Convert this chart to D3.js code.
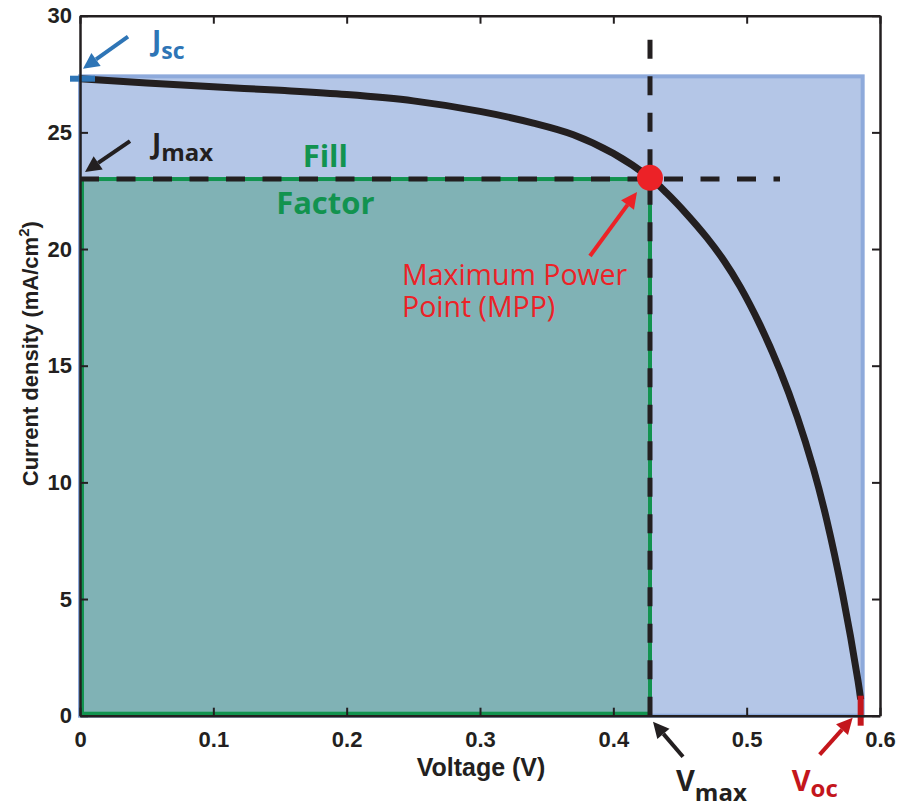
<!DOCTYPE html>
<html>
<head>
<meta charset="utf-8">
<script src="https://cdn.jsdelivr.net/npm/d3@7"></script>
<style>
  body { margin: 0; background: #fff; }
</style>
</head>
<body>
<div class="vis-container"></div>
<script>
// J-V curve
const voltage = [0, 0.05, 0.1, 0.15, 0.2, 0.25, 0.3, 0.34, 0.37, 0.4, 0.4275, 0.44, 0.455,
  0.47, 0.483, 0.495, 0.51, 0.525, 0.538, 0.55, 0.56, 0.572, 0.5835, 0.5855];
const current = [27.3, 27.12, 26.95, 26.8, 26.62, 26.35, 25.9, 25.4, 24.9, 24.1, 23.05, 22.4, 21.5,
  20.5, 19.5, 18.4, 16.75, 14.8, 12.8, 10.6, 8.4, 5.2, 1.5, 0.7];
const xTicks = [0, 0.1, 0.2, 0.3, 0.4, 0.5, 0.6];
const yTicks = [0, 5, 10, 15, 20, 25, 30];
const jsc = 27.4;
const voc = 0.587;
const vmax = 0.4275;
const jmax = 23.0;

const margin = { top: 15.7, right: 20, bottom: 93.3, left: 80 };
const width = 900 - margin.left - margin.right;
const height = 809 - margin.top - margin.bottom;

const svg = d3
  .select('.vis-container')
  .append('svg')
  .attr('width', width + margin.left + margin.right)
  .attr('height', height + margin.top + margin.bottom);

const group = svg
  .append('g')
  .attr('transform', 'translate(' + margin.left + ',' + margin.top + ')');

const xScale = d3.scaleLinear().domain([0, 0.6]).range([0, width]);
const yScale = d3.scaleLinear().domain([0, 30]).range([height, 0]);

const ink = '#231f20';
const annFont = '"Open Sans", "Noto Sans", sans-serif';

// Jsc x Voc rectangle
group
  .append('rect')
  .attr('x', xScale(0))
  .attr('y', yScale(jsc))
  .attr('width', xScale(voc) - xScale(0))
  .attr('height', yScale(0) - yScale(jsc))
  .attr('fill', '#b4c6e7')
  .attr('stroke', '#8eaadb')
  .attr('stroke-width', 4);

// Jmax x Vmax rectangle (fill factor)
group
  .append('rect')
  .attr('x', xScale(0) + 2)
  .attr('y', yScale(jmax))
  .attr('width', xScale(vmax) - xScale(0) - 2)
  .attr('height', yScale(0) - yScale(jmax) - 2)
  .attr('fill', '#80b2b5')
  .attr('stroke', '#12934f')
  .attr('stroke-width', 4);

// curve
const points = voltage.map((v, i) => ({ v: v, j: current[i] }));
const line = d3
  .line()
  .curve(d3.curveCatmullRom.alpha(0.5))
  .x((d) => xScale(d.v))
  .y((d) => yScale(d.j));

group
  .append('path')
  .datum(points)
  .attr('fill', 'none')
  .attr('stroke', ink)
  .attr('stroke-width', 7)
  .attr('stroke-linejoin', 'round')
  .attr('d', line);

// dashed guides through MPP
group
  .append('line')
  .attr('x1', xScale(0))
  .attr('x2', xScale(0.525))
  .attr('y1', yScale(jmax))
  .attr('y2', yScale(jmax))
  .attr('stroke', ink)
  .attr('stroke-width', 5)
  .attr('stroke-dasharray', '19,17.5');

group
  .append('line')
  .attr('x1', xScale(vmax))
  .attr('x2', xScale(vmax))
  .attr('y1', yScale(0))
  .attr('y2', yScale(29.2))
  .attr('stroke', ink)
  .attr('stroke-width', 5)
  .attr('stroke-dasharray', '19,17.5');

// MPP dot
group
  .append('circle')
  .attr('cx', xScale(vmax))
  .attr('cy', yScale(jmax + 0.05))
  .attr('r', 13)
  .attr('fill', '#ec2227');

// Jsc and Voc markers
group
  .append('line')
  .attr('x1', xScale(0) - 10)
  .attr('x2', xScale(0) + 15)
  .attr('y1', yScale(current[0]))
  .attr('y2', yScale(current[0]))
  .attr('stroke', '#2e75b6')
  .attr('stroke-width', 6);

group
  .append('line')
  .attr('x1', xScale(voc) - 2)
  .attr('x2', xScale(voc) - 2)
  .attr('y1', yScale(0) - 20)
  .attr('y2', yScale(0) + 10)
  .attr('stroke', '#c4161c')
  .attr('stroke-width', 6);

// axes (box with inward ticks)
const fmt = (d) => (d === 0 ? '0' : d3.format('.1f')(d));
const axes = [
  group.append('g').attr('transform', `translate(0,${height})`)
    .call(d3.axisBottom(xScale).tickValues(xTicks).tickFormat(fmt).tickSizeInner(-8).tickSizeOuter(0).tickPadding(16)),
  group.append('g')
    .call(d3.axisLeft(yScale).tickValues(yTicks).tickSizeInner(-8).tickSizeOuter(0).tickPadding(8)),
  group.append('g')
    .call(d3.axisTop(xScale).tickValues(xTicks).tickFormat('').tickSizeInner(-8).tickSizeOuter(0)),
  group.append('g').attr('transform', `translate(${width},0)`)
    .call(d3.axisRight(yScale).tickValues(yTicks).tickFormat('').tickSizeInner(-8).tickSizeOuter(0)),
];
axes.forEach((a) => {
  a.select('.domain').attr('stroke', ink).attr('stroke-width', 2.5);
  a.selectAll('.tick line').attr('stroke', ink).attr('stroke-width', 2);
  a.selectAll('.tick text')
    .attr('fill', ink)
    .attr('font-family', '"Liberation Sans", Arial, sans-serif')
    .attr('font-weight', 'bold')
    .attr('font-size', 22);
});

// axis titles
group
  .append('text')
  .attr('x', xScale(0.3) + 1)
  .attr('y', height + 60)
  .attr('text-anchor', 'middle')
  .attr('font-family', '"Liberation Sans", Arial, sans-serif')
  .attr('font-weight', 'bold')
  .attr('font-size', 25)
  .attr('fill', ink)
  .text('Voltage (V)');

const yTitle = group
  .append('text')
  .attr('transform', `translate(-42,${yScale(15) - 12}) rotate(-90)`)
  .attr('text-anchor', 'middle')
  .attr('font-family', '"Liberation Sans", Arial, sans-serif')
  .attr('font-weight', 'bold')
  .attr('font-size', 22)
  .attr('fill', ink);
yTitle.append('tspan').text('Current density (mA/cm');
yTitle.append('tspan').attr('dy', -9).attr('font-size', 15).text('2');
yTitle.append('tspan').attr('dy', 9).text(')');

// annotations
function arrow(x1, y1, x2, y2, color, w) {
  const a = Math.atan2(y2 - y1, x2 - x1);
  const hl = 16, hw = 8;
  const bx = x2 - hl * Math.cos(a), by = y2 - hl * Math.sin(a);
  group.append('line')
    .attr('x1', x1).attr('y1', y1).attr('x2', bx).attr('y2', by)
    .attr('stroke', color).attr('stroke-width', w);
  group.append('path')
    .attr('d', d3.line()([
      [x2, y2],
      [bx + hw * Math.sin(a), by - hw * Math.cos(a)],
      [bx - hw * Math.sin(a), by + hw * Math.cos(a)],
    ]) + 'Z')
    .attr('fill', color);
}

function label(x, y, main, sub, color, size, subSize, subDy) {
  const t = group.append('text')
    .attr('x', x).attr('y', y)
    .attr('font-family', annFont)
    .attr('font-weight', 'bold')
    .attr('fill', color)
    .attr('font-size', size);
  t.append('tspan').text(main);
  t.append('tspan').attr('dy', subDy).attr('font-size', subSize).text(sub);
}

const x0 = xScale(0), yS = yScale(current[0]);
arrow(x0 + 48, yS - 42, x0 + 3, yS - 10, '#2e75b6', 4);
label(x0 + 72, yS - 28, 'J', 'sc', '#2e75b6', 28, 23, 8);

const yJ = yScale(jmax);
arrow(x0 + 50, yJ - 38, x0 + 5, yJ - 7, ink, 4);
label(x0 + 72, yJ - 25, 'J', 'max', ink, 28, 24, 7);

const xV = xScale(vmax), y0 = yScale(0);
arrow(xV + 33, y0 + 41, xV + 3, y0 + 6, ink, 4);
label(xV + 26, y0 + 75, 'V', 'max', ink, 29, 24, 10);

const xO = xScale(voc);
arrow(xO - 43, y0 + 39, xO - 10, y0 + 2, '#c4161c', 4);
label(xO - 71, y0 + 75, 'V', 'oc', '#c4161c', 29, 24, 6);

// MPP label
arrow(xV - 60, yJ + 77, xV - 13, yJ + 13, '#ec2227', 4);
const mppLines = ['Maximum Power', 'Point (MPP)'];
mppLines.forEach((s, i) => {
  group.append('text')
    .attr('x', xV - 248)
    .attr('y', yJ + 106 + i * 32)
    .attr('font-family', annFont)
    .attr('font-size', 28.5)
    .attr('fill', '#ec2227')
    .text(s);
});

// Fill Factor
const ff = group.append('text')
  .attr('font-family', annFont)
  .attr('font-weight', 'bold')
  .attr('font-size', 31)
  .attr('fill', '#12934f')
  .attr('text-anchor', 'middle');
ff.append('tspan').attr('x', xScale(0.184)).attr('y', yJ - 12).text('Fill');
ff.append('tspan').attr('x', xScale(0.184)).attr('y', yJ + 35).text('Factor');
</script>
</body>
</html>
